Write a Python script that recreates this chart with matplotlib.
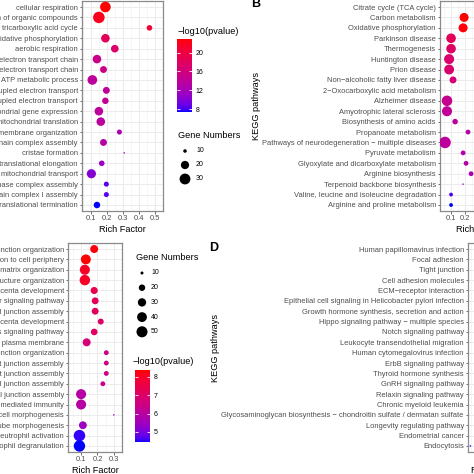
import numpy as np
import matplotlib
matplotlib.use('Agg')
import matplotlib.pyplot as plt
from matplotlib.colors import ListedColormap, Normalize
import matplotlib.cm as cm

plt.rcParams['font.family'] = ['Liberation Sans', 'DejaVu Sans']

W = H = 474
DPI = 100

# ---------------- Panel A (GO terms, top-left) ----------------
a_terms = ["cellular respiration",
           "energy derivation by oxidation of organic compounds",
           "tricarboxylic acid cycle",
           "oxidative phosphorylation",
           "aerobic respiration",
           "respiratory electron transport chain",
           "mitochondrial electron transport chain",
           "ATP metabolic process",
           "mitochondrial ATP synthesis coupled electron transport",
           "ATP synthesis coupled electron transport",
           "mitochondrial gene expression",
           "mitochondrial translation",
           "inner mitochondrial membrane organization",
           "mitochondrial respiratory chain complex assembly",
           "cristae formation",
           "mitochondrial translational elongation",
           "mitochondrial transport",
           "NADH dehydrogenase complex assembly",
           "mitochondrial respiratory chain complex I assembly",
           "mitochondrial translational termination"]
a_rich = [0.188, 0.147, 0.465, 0.188, 0.247, 0.135, 0.176, 0.106, 0.194, 0.188,
          0.147, 0.159, 0.276, 0.176, 0.306, 0.165, 0.100, 0.194, 0.194, 0.135]
a_count = [29, 33, 13, 21, 18, 21, 16, 25, 16, 15,
           21, 21, 12, 16, 9, 13, 23, 12, 12, 15]
a_logp = [22.9, 22.0, 20.6, 18.2, 17.5, 15.2, 15.5, 13.9, 14.4, 14.3,
          13.9, 13.8, 12.8, 13.3, 11.3, 11.2, 10.2, 8.6, 8.6, 7.4]
a_xticks = [0.1, 0.2, 0.3, 0.4, 0.5]
a_color_breaks = [8, 12, 16, 20]
a_size_breaks = [10, 20, 30]

# ---------------- Panel B (KEGG, top-right) ----------------
b_terms = ["Citrate cycle (TCA cycle)",
           "Carbon metabolism",
           "Oxidative phosphorylation",
           "Parkinson disease",
           "Thermogenesis",
           "Huntington disease",
           "Prion disease",
           "Non\u2212alcoholic fatty liver disease",
           "2\u2212Oxocarboxylic acid metabolism",
           "Alzheimer disease",
           "Amyotrophic lateral sclerosis",
           "Biosynthesis of amino acids",
           "Propanoate metabolism",
           "Pathways of neurodegeneration \u2212 multiple diseases",
           "Pyruvate metabolism",
           "Glyoxylate and dicarboxylate metabolism",
           "Arginine biosynthesis",
           "Terpenoid backbone biosynthesis",
           "Valine, leucine and isoleucine degradation",
           "Arginine and proline metabolism"]
b_rich = [0.45, 0.193, 0.186, 0.100, 0.100, 0.086, 0.086, 0.114, 0.38, 0.071,
          0.071, 0.129, 0.221, 0.057, 0.186, 0.207, 0.243, 0.186, 0.100, 0.100]
b_count = [15, 26, 26, 29, 29, 32, 31, 16, 8, 35,
           32, 11, 9, 42, 9, 9, 9, 5, 7, 7]
b_logp = [13.0, 14.0, 13.8, 11.2, 10.6, 10.4, 10.3, 10.0, 9.0, 8.8,
          8.6, 8.2, 8.0, 8.3, 7.8, 7.8, 7.4, 6.6, 4.7, 4.2]
b_xticks = [0.1, 0.2, 0.3, 0.4, 0.5]

# ---------------- Panel C (GO terms, bottom-left) ----------------
c_terms = ["cell junction organization",
           "protein localization to cell periphery",
           "extracellular matrix organization",
           "extracellular structure organization",
           "placenta development",
           "transforming growth factor beta receptor signaling pathway",
           "cell junction assembly",
           "embryonic placenta development",
           "regulation of Ras signaling pathway",
           "protein localization to plasma membrane",
           "cell-cell junction organization",
           "tight junction assembly",
           "bicellular tight junction assembly",
           "cell-cell junction assembly",
           "apical junction assembly",
           "myeloid leukocyte mediated immunity",
           "epithelial cell morphogenesis",
           "epithelial tube morphogenesis",
           "neutrophil activation",
           "neutrophil degranulation"]
c_rich = [0.180, 0.129, 0.123, 0.123, 0.180, 0.186, 0.186, 0.220, 0.180, 0.134,
          0.254, 0.254, 0.254, 0.233, 0.100, 0.100, 0.300, 0.111, 0.090, 0.090]
c_count = [28, 41, 42, 45, 23, 22, 22, 18, 21, 28,
           14, 14, 14, 14, 42, 42, 9, 27, 54, 53]
c_logp = [8.30, 8.38, 8.00, 8.00, 7.40, 7.20, 7.20, 7.05, 7.10, 6.70,
          6.50, 6.50, 6.50, 6.40, 5.95, 5.95, 5.25, 5.45, 4.55, 4.45]
c_xticks = [0.1, 0.2, 0.3]
c_color_breaks = [5, 6, 7, 8]
c_size_breaks = [10, 20, 30, 40, 50]

# ---------------- Panel D (KEGG, bottom-right) ----------------
d_terms = ["Human papillomavirus infection",
           "Focal adhesion",
           "Tight junction",
           "Cell adhesion molecules",
           "ECM\u2212receptor interaction",
           "Epithelial cell signaling in Helicobacter pylori infection",
           "Growth hormone synthesis, secretion and action",
           "Hippo signaling pathway \u2212 multiple species",
           "Notch signaling pathway",
           "Leukocyte transendothelial migration",
           "Human cytomegalovirus infection",
           "ErbB signaling pathway",
           "Thyroid hormone synthesis",
           "GnRH signaling pathway",
           "Relaxin signaling pathway",
           "Chronic myeloid leukemia",
           "Glycosaminoglycan biosynthesis \u2212 chondroitin sulfate / dermatan sulfate",
           "Longevity regulating pathway",
           "Endometrial cancer",
           "Endocytosis"]
d_rich = [0.12, 0.15, 0.17, 0.16, 0.20, 0.14, 0.15, 0.17, 0.22, 0.15,
          0.11, 0.17, 0.20, 0.15, 0.12, 0.15, 0.31, 0.14, 0.16, 0.045]
d_count = [25, 27, 22, 18, 15, 16, 17, 14, 12, 15,
           22, 13, 12, 13, 15, 12, 6, 12, 10, 5]
d_logp = [9.5, 9.0, 8.0, 7.5, 7.2, 6.8, 6.5, 6.3, 6.0, 5.8,
          5.6, 5.5, 5.3, 5.2, 5.0, 4.9, 4.8, 4.7, 4.6, 4.5]
d_xticks = [0.1, 0.2, 0.3]

# ---------------- styling ----------------
TICK_FS = 5.4
TITLE_FS = 6.6
LEG_FS = 5.0
PANEL_FS = 9.0
TXT_GREY = '#4D4D4D'
GRID = '#EBEBEB'
BORDER = '#8a8a8a'
DMIN, DMAX = 1.5, 11.5  # point diameter range in px


def srgb_to_lab(rgb):
    rgb = np.asarray(rgb, float)
    lin = np.where(rgb <= 0.04045, rgb / 12.92, ((rgb + 0.055) / 1.055) ** 2.4)
    M = np.array([[0.4124564, 0.3575761, 0.1804375],
                  [0.2126729, 0.7151522, 0.0721750],
                  [0.0193339, 0.1191920, 0.9503041]])
    xyz = M @ lin / np.array([0.95047, 1.0, 1.08883])
    d = 6 / 29
    f = np.where(xyz > d ** 3, np.cbrt(xyz), xyz / (3 * d * d) + 4 / 29)
    return np.array([116 * f[1] - 16, 500 * (f[0] - f[1]), 200 * (f[1] - f[2])])


def lab_to_srgb(lab):
    L, a, b = lab[:, 0], lab[:, 1], lab[:, 2]
    fy = (L + 16) / 116
    fx = fy + a / 500
    fz = fy - b / 200
    d = 6 / 29
    finv = lambda f: np.where(f > d, f ** 3, 3 * d * d * (f - 4 / 29))
    xyz = np.stack([finv(fx), finv(fy), finv(fz)], axis=1) * np.array([0.95047, 1.0, 1.08883])
    M = np.array([[0.4124564, 0.3575761, 0.1804375],
                  [0.2126729, 0.7151522, 0.0721750],
                  [0.0193339, 0.1191920, 0.9503041]])
    lin = xyz @ np.linalg.inv(M).T
    lin = np.clip(lin, 0, None)
    srgb = np.where(lin <= 0.0031308, 12.92 * lin, 1.055 * lin ** (1 / 2.4) - 0.055)
    return np.clip(srgb, 0, 1)


lo = srgb_to_lab([0, 0, 1])
hi = srgb_to_lab([1, 0, 0])
tt = np.linspace(0, 1, 256)[:, None]
CMAP = ListedColormap(lab_to_srgb(lo + (hi - lo) * tt))


def diam_px(v, vmin, vmax):
    v = np.asarray(v, float)
    return DMIN + (DMAX - DMIN) * np.sqrt(np.clip((v - vmin) / (vmax - vmin), 0, 1))


def s_from(v, vmin, vmax):
    return (diam_px(v, vmin, vmax) * 72.0 / DPI) ** 2


def px_axes(fig, l, t, r, b):
    return fig.add_axes([l / W, 1 - b / H, (r - l) / W, (b - t) / H])


fig = plt.figure(figsize=(W / DPI, H / DPI), dpi=DPI)
fig.patch.set_facecolor('white')


def dot_panel(box, terms, rich, count, logp, xlim, xticks, ylabel=None):
    ax = px_axes(fig, *box)
    n = len(terms)
    y = np.arange(n)
    norm = Normalize(min(logp), max(logp))
    ax.scatter(rich, y, s=s_from(count, min(count), max(count)), c=logp,
               cmap=CMAP, norm=norm, edgecolors='none', zorder=3)
    ax.set_ylim(n - 1 + 0.6, -0.6)
    ax.set_yticks(y)
    ax.set_yticklabels(terms)
    ax.set_xlim(*xlim)
    ax.set_xticks(xticks)
    ax.set_xticklabels(['%.1f' % v for v in xticks])
    minors = [(xticks[i] + xticks[i + 1]) / 2 for i in range(len(xticks) - 1)]
    minors = [xticks[0] - 0.05] + minors + [xticks[-1] + 0.05]
    ax.set_xticks(minors, minor=True)
    ax.grid(which='major', color=GRID, lw=0.7)
    ax.grid(which='minor', axis='x', color='#F2F2F2', lw=0.45)
    ax.set_axisbelow(True)
    for sp in ax.spines.values():
        sp.set_color(BORDER)
        sp.set_linewidth(0.9)
    ax.tick_params(which='major', length=1.8, width=0.5, color='#333333',
                   labelsize=TICK_FS, labelcolor=TXT_GREY, pad=1.2)
    ax.tick_params(which='minor', length=0)
    ax.set_xlabel('Rich Factor', fontsize=TITLE_FS, labelpad=2.0, color='black')
    if ylabel:
        ax.set_ylabel(ylabel, fontsize=TITLE_FS, labelpad=0.8, color='black')
    return ax, norm


axA, normA = dot_panel((82, 0.75, 163, 211.25), a_terms, a_rich, a_count, a_logp,
                       (0.041, 0.518), a_xticks)
axB, normB = dot_panel((440, 0.75, 518, 211.25), b_terms, b_rich, b_count, b_logp,
                       (0.021, 0.578), b_xticks, ylabel='KEGG pathways')
axC, normC = dot_panel((68, 242.8, 122, 452.2), c_terms, c_rich, c_count, c_logp,
                       (0.020, 0.329), c_xticks)
axD, normD = dot_panel((468, 242.8, 520, 452.2), d_terms, d_rich, d_count, d_logp,
                       (0.030, 0.345), d_xticks, ylabel='KEGG pathways')


def colorbar(box, norm, breaks, title, title_xy):
    cax = px_axes(fig, *box)
    cb = fig.colorbar(cm.ScalarMappable(norm=norm, cmap=CMAP), cax=cax, ticks=breaks)
    cb.outline.set_visible(False)
    cax.yaxis.set_ticks_position('both')
    cax.tick_params(axis='y', direction='in', length=2.5, width=0.6, color='white',
                    labelsize=LEG_FS, labelcolor='black', pad=2.5,
                    labelleft=False, labelright=True)
    fig.text(title_xy[0] / W, 1 - title_xy[1] / H, title, fontsize=TITLE_FS,
             ha='left', va='center')


colorbar((177, 39, 192, 112), normA, a_color_breaks, '\u2212log10(pvalue)', (178, 32))
colorbar((135, 370, 150, 442), normC, c_color_breaks, '\u2212log10(pvalue)', (133, 361))

# size legends (keys drawn in an overlay with pixel coordinates)
ov = fig.add_axes([0, 0, 1, 1], zorder=5)
ov.set_xlim(0, W)
ov.set_ylim(H, 0)
ov.axis('off')


def size_legend(breaks, counts, x_key, y_first, step, x_lab, title_xy):
    ys = y_first + step * np.arange(len(breaks))
    ov.scatter([x_key] * len(breaks), ys, s=s_from(breaks, min(counts), max(counts)),
               color='black', edgecolors='none')
    for yy, b in zip(ys, breaks):
        ov.text(x_lab, yy, str(b), fontsize=LEG_FS, ha='left', va='center')
    ov.text(title_xy[0], title_xy[1], 'Gene Numbers', fontsize=TITLE_FS,
            ha='left', va='center')


size_legend(a_size_breaks, a_count, 185, 151, 14, 196, (178, 135))
size_legend(c_size_breaks, c_count, 142, 273, 14.7, 151, (136, 258))

fig.text(256 / W, 1 - 4 / H, 'B', fontsize=PANEL_FS, fontweight='bold', ha='center', va='center')
fig.text(214 / W, 1 - 248 / H, 'D', fontsize=PANEL_FS, fontweight='bold', ha='center', va='center')

fig.savefig('out.png', dpi=DPI)
